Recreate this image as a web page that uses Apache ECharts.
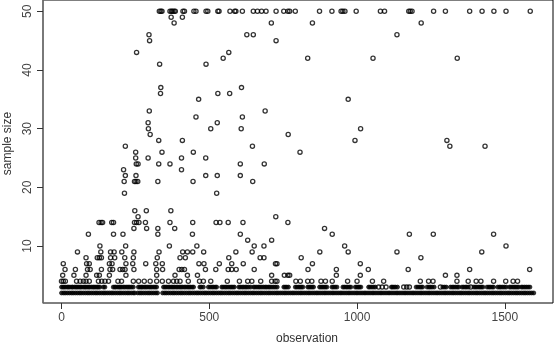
<!DOCTYPE html>
<html>
<head>
<meta charset="utf-8">
<style>html,body{margin:0;padding:0;background:#fff}#c{width:554px;height:343px}</style>
<script src="https://cdn.jsdelivr.net/npm/echarts@6/dist/echarts.min.js"></script>
</head>
<body>
<div id="c"></div>
<script>
const xTicks = [0, 500, 1000, 1500];
const yTicks = [10, 20, 30, 40, 50];
const obs50 = [331,336,340,367,372,376,381,385,411,416,448,455,489,495,529,533,570,586,590,612,649,663,677,692,726,752,766,772,791,873,915,946,952,959,997,1079,1093,1175,1180,1186,1259,1299,1381,1423,1463,1504,1586];
const obs49 = [371,409];
const obs48 = [381,710,849,1217];
const obs46 = [296,627,649,1135];
const obs45 = [298,726];
const obs43 = [254,566];
const obs42 = [547,833,1054,1339];
const obs41 = [332,489];
const obs37 = [336,609];
const obs36 = [335,529,569];
const obs35 = [464,970];
const obs33 = [297,689];
const obs32 = [455,612];
const obs31 = [293,527];
const obs30 = [294,505,608,1012];
const obs29 = [300,767];
const obs28 = [329,409,993,1304];
const obs27 = [216,646,1314,1433];
const obs26 = [251,340,446,807];
const obs25 = [251,293,406,488];
const obs24 = [253,259,329,367,605,686];
const obs23 = [210,406];
const obs22 = [216,252,488,527,605];
const obs21 = [212,247,252,258,326,445,647];
const obs19 = [213,525];
const obs16 = [248,287,370];
const obs15 = [259,725];
const obs14 = [127,134,139,170,176,247,254,262,284,367,444,523,536,564,614,766];
const obs13 = [245,288,326,383,890];
const obs12 = [91,176,208,326,443,605,916,1177,1258,1462];
const obs11 = [630,711];
const obs10 = [130,217,365,458,652,685,958,1504];
const obs9 = [54,133,166,178,204,245,330,410,426,444,481,590,645,874,970,1135,1422];
const obs8 = [83,121,128,135,166,180,214,243,324,401,419,566,672,685,811,1216];
const obs7 = [6,85,94,162,171,218,241,285,319,341,465,482,534,576,615,724,729,849,1011];
const obs6 = [12,47,88,97,135,164,173,198,207,215,245,322,342,398,407,416,487,522,564,576,591,652,834,930,1038,1173,1381,1584];
const obs5 = [4,42,83,119,128,162,218,322,384,426,460,711,754,766,772,930,1011,1299,1338];
const obs4 = [0,6,13,51,63,74,83,94,125,136,147,159,191,203,243,261,280,300,322,341,362,379,390,401,429,467,480,505,561,602,630,644,674,711,723,729,793,808,833,847,878,893,916,968,1000,1052,1090,1214,1242,1257,1338,1376,1403,1419,1462,1503,1528,1543];
const obs3 = [0,5,9,14,20,24,29,35,38,44,49,53,58,63,67,73,78,82,87,92,96,102,107,111,116,121,125,130,142,147,175,180,184,190,195,199,204,210,215,221,226,231,237,243,260,265,270,274,280,285,290,296,301,306,312,317,322,345,350,355,361,366,372,377,382,388,393,399,404,409,415,420,426,431,436,442,447,468,473,480,497,503,509,514,520,525,542,547,553,558,564,570,575,580,585,600,605,611,616,622,627,633,640,650,655,661,667,672,678,684,690,695,701,706,712,718,724,730,752,757,762,768,791,796,802,807,812,817,833,838,843,848,853,873,878,883,888,893,898,915,920,926,932,952,957,963,968,974,979,994,999,1004,1008,1013,1039,1044,1050,1056,1062,1073,1085,1098,1116,1120,1125,1130,1137,1158,1168,1177,1200,1206,1212,1217,1222,1237,1243,1248,1254,1261,1282,1290,1296,1302,1316,1322,1327,1333,1339,1344,1355,1360,1366,1371,1377,1385,1395,1400,1405,1411,1416,1421,1426,1440,1446,1451,1457,1462,1476,1482,1487,1493,1499,1505,1516,1521,1527,1532,1537,1542,1547,1556,1561,1567,1573,1579,1585];
const obs2 = [0,7,13,20,27,34,40,47,54,61,67,74,81,88,94,101,108,115,121,128,135,142,148,155,162,169,175,182,189,196,202,209,216,223,229,236,243,248,258,265,271,278,285,292,298,305,312,319,325,342,349,355,362,369,376,382,389,396,403,409,416,423,430,436,443,450,457,463,470,477,484,490,497,504,511,517,524,531,538,544,551,558,565,571,578,585,592,598,605,612,619,625,632,639,646,652,659,666,673,679,686,693,700,706,713,720,727,733,740,747,754,760,767,774,781,787,794,801,808,814,821,828,835,841,848,855,862,868,875,882,889,895,902,909,916,922,929,936,943,949,956,963,970,976,983,990,997,1003,1010,1017,1024,1030,1037,1044,1051,1057,1064,1071,1078,1084,1091,1098,1105,1111,1118,1125,1132,1138,1145,1152,1159,1165,1172,1179,1186,1192,1199,1206,1213,1219,1226,1233,1240,1246,1253,1260,1267,1273,1280,1287,1294,1300,1307,1314,1321,1327,1334,1341,1348,1354,1361,1368,1375,1381,1388,1395,1402,1408,1415,1422,1429,1435,1442,1449,1456,1462,1469,1476,1483,1489,1496,1503,1510,1516,1523,1530,1537,1543,1550,1557,1564,1570,1577,1584,1591,1598];

const groups = [[50,obs50],[49,obs49],[48,obs48],[46,obs46],[45,obs45],[43,obs43],[42,obs42],[41,obs41],[37,obs37],[36,obs36],[35,obs35],[33,obs33],[32,obs32],[31,obs31],[30,obs30],[29,obs29],[28,obs28],[27,obs27],[26,obs26],[25,obs25],[24,obs24],[23,obs23],[22,obs22],[21,obs21],[19,obs19],[16,obs16],[15,obs15],[14,obs14],[13,obs13],[12,obs12],[11,obs11],[10,obs10],[9,obs9],[8,obs8],[7,obs7],[6,obs6],[5,obs5],[4,obs4],[3,obs3],[2,obs2]];
const openPoints = [];
const overlapPoints = [];
groups.forEach(([size, list]) => list.forEach((o, i) => {
  // where neighbouring open circles overprint, the picture shows solid ink
  const close = (i > 0 && o - list[i - 1] <= 7) || (i < list.length - 1 && list[i + 1] - o <= 7);
  (close && size <= 3 ? overlapPoints : openPoints).push([o, size]);
}));

const font = '"Liberation Sans", sans-serif';
const chart = echarts.init(document.getElementById('c'), null, {renderer: 'canvas'});
chart.setOption({
  animation: false,
  backgroundColor: '#fff',
  grid: {left: 43, top: 0, width: 510, height: 303, outerBoundsMode: 'none', containLabel: false, show: true, borderColor: '#000', borderWidth: 1, backgroundColor: 'transparent'},
  xAxis: {
    type: 'value', min: -62.6, max: 1663, splitLine: {show: false},
    axisLine: {show: false},
    axisTick: {show: true, length: 6, lineStyle: {color: '#333', width: 1}, customValues: xTicks},
    axisLabel: {color: '#444', fontFamily: font, fontSize: 12, margin: 9, customValues: xTicks, formatter: v => String(v), showMinLabel: true, showMaxLabel: true},
    name: 'observation', nameLocation: 'middle', nameGap: 30,
    nameTextStyle: {color: '#333', fontFamily: font, fontSize: 12, padding: [0, 0, 0, 18]}
  },
  yAxis: {
    type: 'value', min: 0.29, max: 51.93, splitLine: {show: false},
    axisLine: {show: true, onZero: false, lineStyle: {color: '#777', width: 1.5}},
    axisTick: {show: true, length: 6, lineStyle: {color: '#333', width: 1}, customValues: yTicks},
    axisLabel: {color: '#444', fontFamily: font, fontSize: 12, rotate: 90, margin: 15, customValues: yTicks, verticalAlign: 'middle', align: 'center'},
    name: 'sample size', nameLocation: 'middle', nameGap: 29, nameRotate: 90,
    nameTextStyle: {color: '#333', fontFamily: font, fontSize: 12, padding: [0, 0, 0, 16]}
  },
  series: [{
    type: 'scatter', data: openPoints, symbol: 'circle', symbolSize: 4.2,
    itemStyle: {color: 'rgba(255,255,255,0)', borderColor: '#000', borderWidth: 1.3},
    silent: true, clip: false
  }, {
    type: 'scatter', data: overlapPoints, symbol: 'circle', symbolSize: 4,
    itemStyle: {color: '#000', borderColor: '#000', borderWidth: 0.8},
    silent: true, clip: false
  }]
});
</script>
</body>
</html>
